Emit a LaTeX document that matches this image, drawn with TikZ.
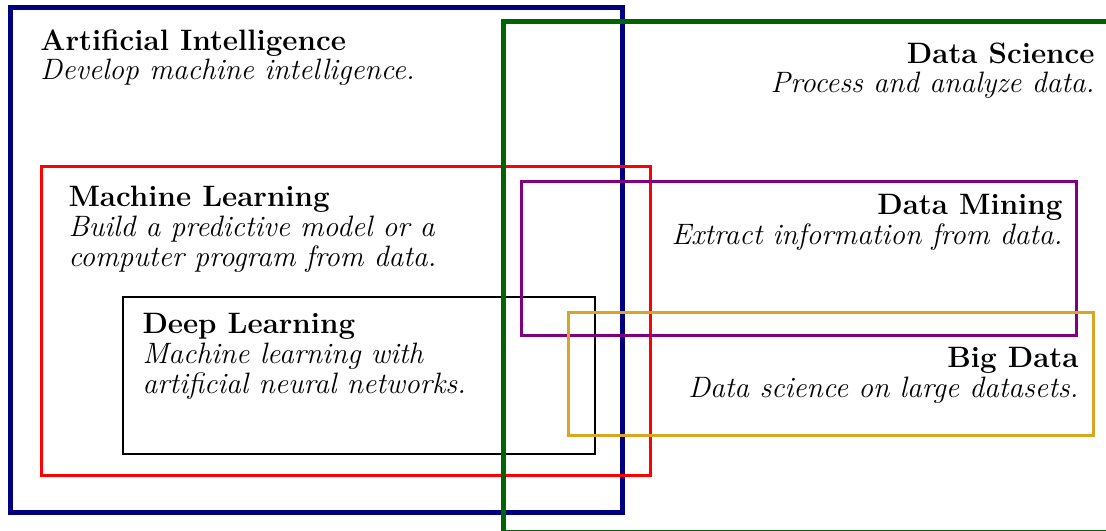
\documentclass[tikz,border=0pt]{standalone}
\usepackage{tikz}
\definecolor{ainavy}{RGB}{0,0,128}
\definecolor{dsgreen}{RGB}{0,100,0}
\definecolor{mlred}{RGB}{255,0,0}
\definecolor{dmpurple}{RGB}{128,0,128}
\definecolor{bdgold}{RGB}{218,165,32}
\tikzset{%
	field/.style      = {draw, line join=miter}, % Box of a field
	heavy/.style      = {field, line width=2pt},
	medium/.style     = {field, line width=1.2pt},
	light/.style      = {field, line width=0.8pt},
	heading/.style    = {inner sep=0pt, font=\fontsize{11.8}{11.9}\selectfont},
	leftlabel/.style  = {heading, anchor=north west, align=left}, % Label, left
	rightlabel/.style = {heading, anchor=north east, align=right}, % Label, right
}

\begin{document}
\begin{tikzpicture}[x=0.4pt,y=-0.4pt]
	\useasboundingbox (0,0) rectangle (1106,531);
	\clip (0,0) rectangle (1106,531);
	% fields
	\draw[heavy, ainavy] (10,8) rectangle (622,513);
	\draw[medium, mlred] (41,167) rectangle (650,476);
	\draw[light, black] (123,297) rectangle (595,454);
	\draw[heavy, dsgreen] (503,22) rectangle (1112,532.3);
	\draw[medium, dmpurple] (521,182) rectangle (1076,336);
	\draw[medium, bdgold] (568,313) rectangle (1093,436);
	% labels
	\node[leftlabel] (ai) at (40,29) {\textbf{Artificial Intelligence}\\\textit{Develop machine intelligence.}};
	\node[leftlabel] (ml) at (68,186) {\textbf{Machine Learning}\\\textit{Build a predictive model or a}\\\textit{computer program from data.}};
	\node[leftlabel] (dl) at (142,313) {\textbf{Deep Learning}\\\textit{Machine learning with}\\\textit{artificial neural networks.}};
	\node[rightlabel] (ds) at (1095,42) {\textbf{Data Science}\\\textit{Process and analyze data.}};
	\node[rightlabel] (dm) at (1063,194) {\textbf{Data Mining}\\\textit{Extract information from data.}};
	\node[rightlabel] (bd) at (1079,347) {\textbf{Big Data}\\\textit{Data science on large datasets.}};
\end{tikzpicture}
\end{document}
